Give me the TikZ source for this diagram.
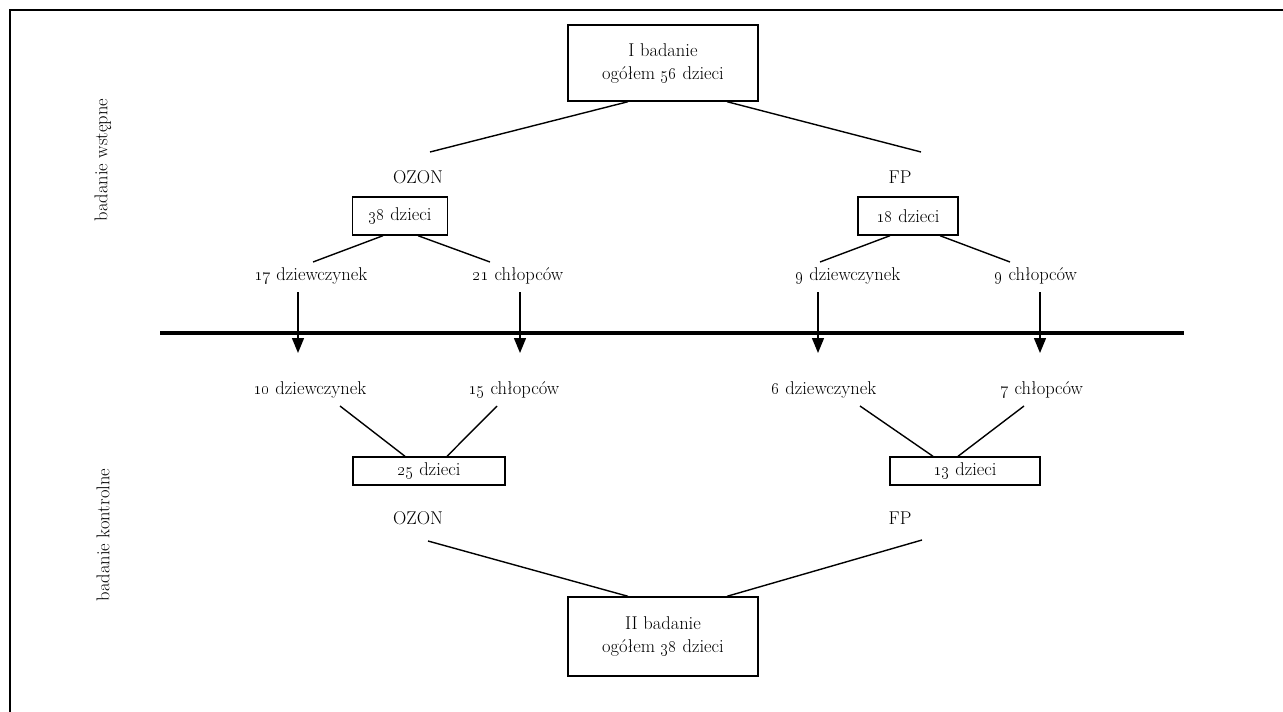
\documentclass[tikz,border=0pt]{standalone}
\usetikzlibrary{arrows.meta}
\newcommand{\os}[1]{\oldstylenums{#1}}
\begin{document}
\begin{tikzpicture}[x=1pt,y=-1pt,
  txt/.style={font=\fontsize{18.5}{22}\selectfont, inner sep=0pt},
  boxn/.style={draw, line width=1.4pt, font=\fontsize{18.5}{23}\selectfont, inner sep=0pt, align=center},
  conn/.style={line width=1.4pt},
  arr/.style={line width=1.4pt, -{Triangle[length=15pt,width=12pt]}}]
\useasboundingbox (0,0) rectangle (1283,712);
\draw[line width=1.5pt] (10,712) -- (10,10) -- (1283,10);
% top
\node[boxn, minimum width=190pt, minimum height=76pt] (bI) at (663,63) {I badanie\\ogółem \os{56} dzieci};
\node[txt] (oz1) at (418,177) {OZON};
\node[txt] (fp1) at (900,177) {FP};
\coordinate (c1) at (430,152);
\coordinate (c2) at (921,152);
\draw[conn] ([xshift=-35pt]bI.south) -- (c1);
\draw[conn] ([xshift=64pt]bI.south) -- (c2);
\node[boxn, minimum width=95pt, minimum height=38pt] (b38) at (400,216) {\os{38} dzieci};
\node[boxn, minimum width=100pt, minimum height=38pt] (b18) at (908,216) {\os{18} dzieci};
\node[txt] (g17) at (311,276) {\os{17} dziewczynek};
\node[txt] (c21) at (518,276) {\os{21} chłopców};
\node[txt] (g9) at (848,276) {\os{9} dziewczynek};
\node[txt] (c9) at (1036,276) {\os{9} chłopców};
\coordinate (d1) at (313,262);
\coordinate (d2) at (490,262);
\coordinate (d3) at (820,262);
\coordinate (d4) at (1010,262);
\draw[conn] ([xshift=-17pt]b38.south) -- (d1);
\draw[conn] ([xshift=18pt]b38.south) -- (d2);
\draw[conn] ([xshift=-18pt]b18.south) -- (d3);
\draw[conn] ([xshift=32pt]b18.south) -- (d4);
% separator
\coordinate (s1) at (160,333);
\coordinate (s2) at (1184,333);
\draw[line width=4pt] (s1) -- (s2);
% lower texts
\node[txt] (g10) at (310,390) {\os{10} dziewczynek};
\node[txt] (c15) at (514,390) {\os{15} chłopców};
\node[txt] (g6) at (824,390) {\os{6} dziewczynek};
\node[txt] (c7) at (1042,390) {\os{7} chłopców};
\draw[arr] (298,292) -- (298,353);
\draw[arr] (520,292) -- (520,353);
\draw[arr] (818,292) -- (818,353);
\draw[arr] (1040,292) -- (1040,353);
\node[boxn, minimum width=152pt, minimum height=28pt] (b25) at (429,471) {\os{25} dzieci};
\node[boxn, minimum width=150pt, minimum height=28pt] (b13) at (965,471) {\os{13} dzieci};
\coordinate (e1) at (340,406);
\coordinate (e2) at (497,406);
\coordinate (e3) at (860,406);
\coordinate (e4) at (1024,406);
\draw[conn] (e1) -- ([xshift=-24pt]b25.north);
\draw[conn] (e2) -- ([xshift=18pt]b25.north);
\draw[conn] (e3) -- ([xshift=-32pt]b13.north);
\draw[conn] (e4) -- ([xshift=-7pt]b13.north);
\node[txt] (oz2) at (418,518) {OZON};
\node[txt] (fp2) at (900,518) {FP};
\coordinate (f1) at (428,541);
\coordinate (f2) at (922,540);
\node[boxn, minimum width=190pt, minimum height=79pt] (bII) at (663,636.5) {II badanie\\ogółem \os{38} dzieci};
\draw[conn] (f1) -- ([xshift=-35pt]bII.north);
\draw[conn] (f2) -- ([xshift=64pt]bII.north);
% side labels
\node[txt, rotate=90] (lw) at (103,160) {badanie wstępne};
\node[txt, rotate=90] (lk) at (103,535) {badanie kontrolne};
\end{tikzpicture}
\end{document}
